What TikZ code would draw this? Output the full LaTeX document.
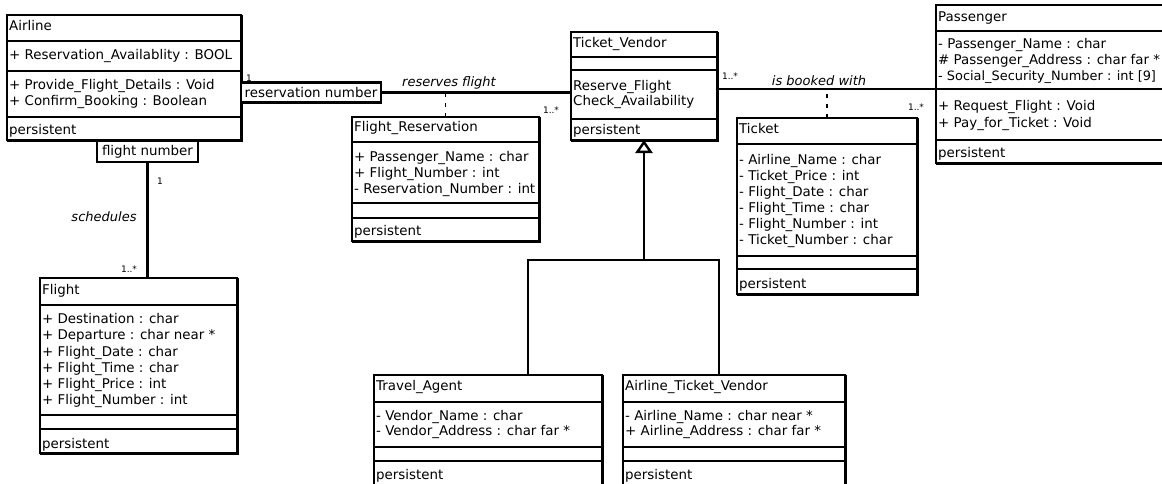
\documentclass[tikz,border=0pt]{standalone}
\usepackage{fontspec}
\setmainfont{DejaVu Sans}
\usetikzlibrary{arrows.meta}

\tikzset{
  clsbox/.style={draw, line width=2.2pt, fill=white, inner sep=0pt, outer sep=0pt, anchor=north west},
  boxline/.style={line width=2.2pt},
  boxshade/.style={line width=1.4pt},
  txt/.style={anchor=mid west, inner sep=0pt, font=\fontsize{13.4}{16}\selectfont},
  qual/.style={draw, line width=2.2pt, fill=white, inner sep=0pt, font=\fontsize{13.4}{16}\selectfont},
  mult/.style={inner sep=0pt, font=\fontsize{9}{10}\selectfont},
  rolelbl/.style={inner sep=0pt, font=\itshape\fontsize{13}{16}\selectfont},
  link/.style={line width=2.2pt},
  dotlink/.style={line width=1.3pt, dash pattern=on 4pt off 6pt},
  genlink/.style={line width=2.6pt},
}

% class box: name, x1, y1, x2, y2, compartment dividers
\newcommand\umlclass[6]{%
  \node[clsbox, minimum width={#4-#2}, minimum height={#5-#3}] (#1) at (#2,#3) {};
  \foreach \d in {#6} \draw[boxline] (#2,\d) -- (#4,\d);
  \draw[boxshade] ([xshift=1.2pt]#1.north east) -- ([xshift=1.2pt,yshift=-1.2pt]#1.south east)
    -- ([yshift=-1.2pt]#1.south west);
}
% lines of a compartment: prefix, x, mid of first line, line spacing, lines
\newcommand\umllines[5]{%
  \foreach \t [count=\i from 0] in {#5}
    \node[txt] (#1-\i) at (#2,{#3+#4*\i}) {\t};
}

\begin{document}
\begin{tikzpicture}[x=1pt, y=-1pt]
\fill[white] (0,0) rectangle (1162,483);
\clip (0,0) rectangle (1162,483);

% ---- Airline
\umlclass{airline}{7}{15}{241}{140}{41,71,117}
\umllines{airlineN}{9}{28}{16}{Airline}
\umllines{airlineA}{9}{57}{16}{+ Reservation\_Availablity : BOOL}
\umllines{airlineO}{9}{87}{16}{+ Provide\_Flight\_Details : Void, + Confirm\_Booking : Boolean}
\umllines{airlineP}{9}{132}{16}{persistent}

% ---- Flight
\umlclass{flight}{40}{278}{237}{453}{305,415,429}
\umllines{flightN}{42}{292}{16}{Flight}
\umllines{flightA}{42}{321}{16.2}{+ Destination : char, + Departure : char near *, + Flight\_Date : char,
  + Flight\_Time : char, + Flight\_Price : int, + Flight\_Number : int}
\umllines{flightP}{42}{446}{16}{persistent}

% ---- Flight_Reservation
\umlclass{fr}{352}{117}{539}{241}{142,203,218}
\umllines{frN}{354}{129}{16}{Flight\_Reservation}
\umllines{frA}{354}{158.5}{16}{+ Passenger\_Name : char, + Flight\_Number : int, - Reservation\_Number : int}
\umllines{frP}{354}{232.5}{16}{persistent}

% ---- Ticket_Vendor
\umlclass{tv}{571}{32}{717}{140}{57,70,119}
\umllines{tvN}{573}{44.5}{16}{Ticket\_Vendor}
\umllines{tvO}{573}{87.5}{15.5}{Reserve\_Flight, Check\_Availability}
\umllines{tvP}{573}{132}{16}{persistent}

% ---- Ticket
\umlclass{tk}{737}{118}{917}{294}{144,256,269}
\umllines{tkN}{739}{131}{16}{Ticket}
\umllines{tkA}{739}{161.5}{16.1}{- Airline\_Name : char, - Ticket\_Price : int, - Flight\_Date : char,
  - Flight\_Time : char, - Flight\_Number : int, - Ticket\_Number : char}
\umllines{tkP}{739}{286}{16}{persistent}

% ---- Passenger
\umlclass{pass}{936}{5}{1185}{163}{31,89,140}
\umllines{passN}{938}{18.5}{16}{Passenger}
\umllines{passA}{938}{46}{16}{- Passenger\_Name : char, \# Passenger\_Address : char far *}
\node[txt, font=\fontsize{12.9}{16}\selectfont] (passA-2) at (938,78) {- Social\_Security\_Number : int [9]};
\umllines{passO}{938}{108}{16.5}{+ Request\_Flight : Void, + Pay\_for\_Ticket : Void}
\umllines{passP}{938}{155}{16}{persistent}

% ---- Travel_Agent
\umlclass{ta}{374}{375}{602}{500}{402,447,461}
\umllines{taN}{376}{388}{16}{Travel\_Agent}
\umllines{taA}{376}{418}{15}{- Vendor\_Name : char, - Vendor\_Address : char far *}
\umllines{taP}{376}{477}{16}{persistent}

% ---- Airline_Ticket_Vendor
\umlclass{atv}{623}{375}{845}{500}{402,447,461}
\umllines{atvN}{625}{388}{16}{Airline\_Ticket\_Vendor}
\umllines{atvA}{625}{418}{15}{- Airline\_Name : char near *, + Airline\_Address : char far *}
\umllines{atvP}{625}{477}{16}{persistent}

% ---- qualifiers attached to Airline
\node[qual, minimum width=140, minimum height=20] (resq) at (311,92.5) {reservation number};
\node[qual, minimum width=101, minimum height=21] (fq) at (147.5,151.5) {flight number};

% ---- associations
\draw[link] (resq.east) -- (resq.east -| tv.west);
\draw[dotlink] (fr.north) -- (fr.north |- resq.east);

\coordinate (bk) at ([yshift=-3pt]tv.east);
\draw[link] (bk) -- (bk -| pass.west);
\draw[dotlink] (tk.north) -- (tk.north |- bk);

\draw[link] (fq.south) -- (fq.south |- flight.north);

% ---- generalization
\coordinate (gj) at (644,260);
\coordinate (gl) at (528,260);
\coordinate (gr) at (719,260);
\draw[link] (ta.north -| gl) -- (gl) -- (gr) -- (atv.north -| gr);
\draw[genlink, -{Triangle[open, length=13pt, width=17pt, line width=2.4pt]}] (gj) -- (tv.south);

% ---- association labels and multiplicities
\node[rolelbl] (lblres) at (449,83) {reserves flight};
\node[rolelbl] (lblbook) at (819,81) {is booked with};
\node[rolelbl] (lblsch) at (104,217) {schedules};
\node[mult] (m1) at (249,78) {1};
\node[mult] (m2) at (551,110) {1..*};
\node[mult] (m3) at (730,76) {1..*};
\node[mult] (m4) at (916,107) {1..*};
\node[mult] (m5) at (160,181) {1};
\node[mult] (m6) at (129,269) {1..*};
\end{tikzpicture}
\end{document}
